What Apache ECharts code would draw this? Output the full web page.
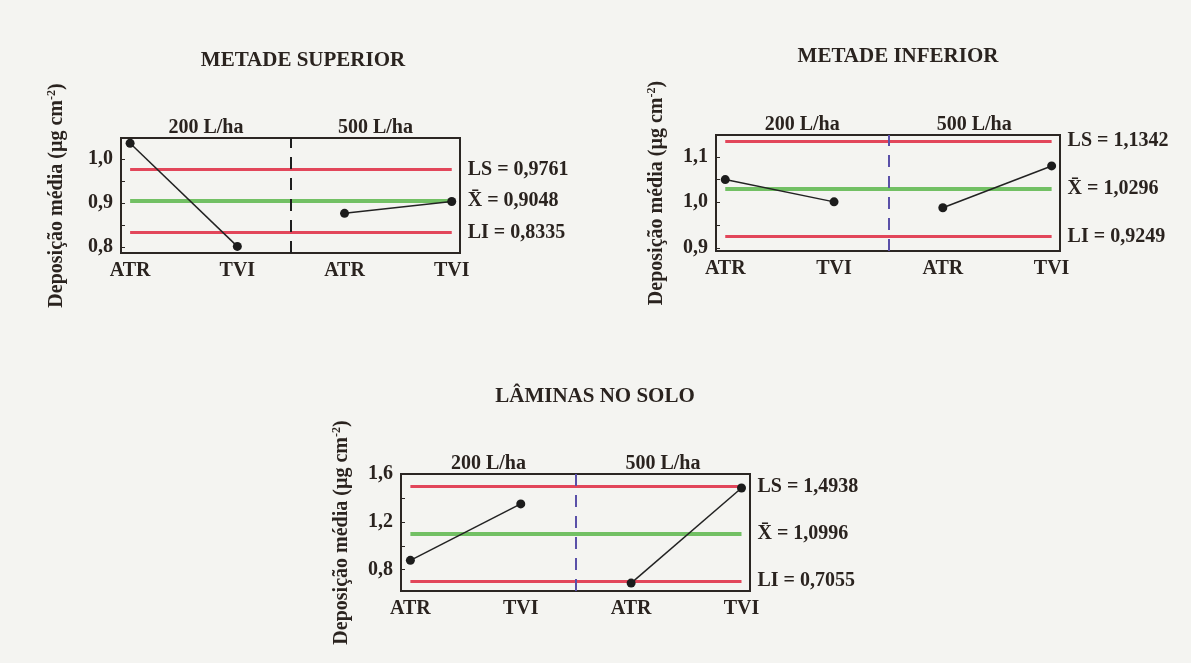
<!DOCTYPE html>
<html>
<head>
<meta charset="utf-8">
<script src="https://cdn.jsdelivr.net/npm/echarts@6/dist/echarts.min.js"></script>
<style>
  html, body { margin: 0; background: #f4f4f1; }
  #chart { width: 1191px; height: 663px; }
</style>
</head>
<body>
<div id="chart"></div>
<script>
// dados
const categories = ['ATR', 'TVI', 'ATR', 'TVI'];
const groups = ['200 L/ha', '500 L/ha'];
const titles = ['METADE SUPERIOR', 'METADE INFERIOR', 'LÂMINAS NO SOLO'];
// deposição média por tratamento
const superiorValues = [1.036, 0.802, 0.877, 0.904];
const inferiorValues = [1.050, 1.001, 0.988, 1.080];
const laminasValues = [0.878, 1.350, 0.688, 1.483];
// LS, média, LI
const superiorLimits = [0.9761, 0.9048, 0.8335];
const inferiorLimits = [1.1342, 1.0296, 0.9249];
const laminasLimits = [1.4938, 1.0996, 0.7055];
// rótulos do eixo y
const superiorTicks = [0.8, 0.9, 1.0];
const inferiorTicks = [0.9, 1.0, 1.1];
const laminasTicks = [0.8, 1.2, 1.6];

const FONT = 'Liberation Serif';
const TEXT = '#2a231f';
const RED = '#e2465a';
const GREEN = '#72c064';

const panels = [
    { values: superiorValues, limits: superiorLimits, ticks: superiorTicks, minor: 0.05,
      yMin: 0.787, yMax: 1.048, grid: { left: 121, top: 138, width: 339, height: 115 },
      title: [298, 45], nameGap: 53, divider: '#1e1e1e' },
    { values: inferiorValues, limits: inferiorLimits, ticks: inferiorTicks, minor: 0.05,
      yMin: 0.893, yMax: 1.148, grid: { left: 716, top: 135, width: 344, height: 116 },
      title: [893, 41], nameGap: 48, divider: '#5a50a8' },
    { values: laminasValues, limits: laminasLimits, ticks: laminasTicks, minor: 0.2,
      yMin: 0.622, yMax: 1.6, grid: { left: 401, top: 474, width: 349, height: 117 },
      title: [590, 381], nameGap: 48, divider: '#5a50a8' }
];
const xMin = 0.915, xMax = 4.077;

const fmt = (v, d) => v.toFixed(d).replace('.', ',');
const limitNames = ['LS', 'X\u0304', 'LI'];
const limitColors = [RED, GREEN, RED];
const limitWidths = [3, 4, 3];

const option = {
    backgroundColor: '#f4f4f1',
    animation: false,
    textStyle: { fontFamily: FONT, color: TEXT, fontWeight: 'bold' },
    title: [],
    grid: [],
    xAxis: [],
    yAxis: [],
    series: []
};

panels.forEach((p, i) => {
    option.title.push({
        text: titles[i], left: p.title[0], top: p.title[1], textAlign: 'center',
        textStyle: { fontFamily: FONT, fontSize: 21, fontWeight: 'bold', color: TEXT }
    });
    option.grid.push(Object.assign({
        show: true, borderColor: '#2b2623', borderWidth: 2, backgroundColor: 'transparent'
    }, p.grid));

    const minorTicks = [];
    for (let v = p.ticks[0] - p.minor; v <= p.yMax + 1e-9; v += p.minor) {
        if (v >= p.yMin) minorTicks.push(+v.toFixed(3));
    }

    option.xAxis.push({
        type: 'value', gridIndex: i, min: xMin, max: xMax,
        axisLine: { show: false }, axisTick: { show: false }, splitLine: { show: false },
        axisLabel: {
            customValues: [1, 2, 3, 4],
            formatter: v => categories[Math.round(v) - 1],
            fontFamily: FONT, fontSize: 20, fontWeight: 'bold', color: TEXT, margin: 8
        }
    });
    option.xAxis.push({
        type: 'value', gridIndex: i, position: 'top', min: xMin, max: xMax,
        axisLine: { show: false }, axisTick: { show: false }, splitLine: { show: false },
        axisLabel: {
            customValues: [(xMin + 2.5) / 2, (2.5 + xMax) / 2],
            formatter: v => (v < 2.5 ? groups[0] : groups[1]),
            fontFamily: FONT, fontSize: 20, fontWeight: 'bold', color: TEXT, margin: 0
        }
    });
    option.yAxis.push({
        type: 'value', gridIndex: i, min: p.yMin, max: p.yMax,
        name: 'Deposição média (µg cm{sup|-2})',
        nameLocation: 'middle', nameRotate: 90, nameGap: p.nameGap,
        nameTextStyle: {
            fontFamily: FONT, fontSize: 20, fontWeight: 'bold', color: TEXT,
            rich: { sup: { fontFamily: FONT, fontSize: 12, fontWeight: 'bold', color: TEXT, padding: [0, 0, 10, 0] } }
        },
        axisLine: { show: false }, splitLine: { show: false },
        axisTick: { show: true, inside: true, length: 4, customValues: minorTicks,
                    lineStyle: { color: '#2b2623' } },
        axisLabel: {
            customValues: p.ticks, formatter: v => fmt(v, 1),
            fontFamily: FONT, fontSize: 20, fontWeight: 'bold', color: TEXT, margin: 8
        }
    });

    const limitLines = p.limits.map((v, k) => [
        { coord: [1, v], lineStyle: { color: limitColors[k], width: limitWidths[k], type: 'solid' },
          label: { show: true, position: 'end', distance: 16, formatter: limitNames[k] + ' = ' + fmt(v, 4),
                   fontFamily: FONT, fontSize: 20, fontWeight: 'bold', color: TEXT } },
        { coord: [4, v] }
    ]);
    const lineStyle = { color: '#222', width: 1.5 };
    option.series.push({
        type: 'line', xAxisIndex: 2 * i, yAxisIndex: i,
        data: [[1, p.values[0]], [2, p.values[1]]],
        symbol: 'circle', symbolSize: 9, z: 5,
        itemStyle: { color: '#1c1c1c' }, lineStyle: lineStyle,
        markLine: {
            silent: true, symbol: ['none', 'none'],
            data: limitLines.concat([{
                xAxis: 2.5, lineStyle: { color: p.divider, width: 2, type: [12, 9] }, label: { show: false }
            }])
        }
    });
    option.series.push({
        type: 'line', xAxisIndex: 2 * i, yAxisIndex: i,
        data: [[3, p.values[2]], [4, p.values[3]]],
        symbol: 'circle', symbolSize: 9, z: 5,
        itemStyle: { color: '#1c1c1c' }, lineStyle: lineStyle
    });
});

const chart = echarts.init(document.getElementById('chart'));
chart.setOption(option);
</script>
</body>
</html>
